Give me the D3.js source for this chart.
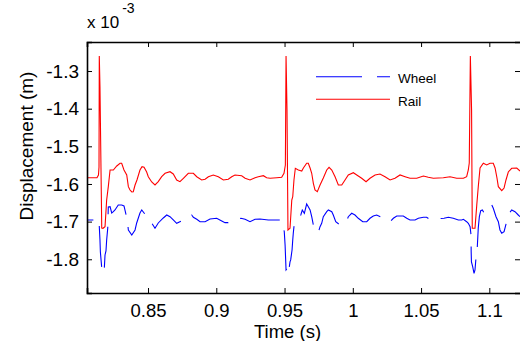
<!DOCTYPE html>
<html>
<head>
<meta charset="utf-8">
<script src="https://cdn.jsdelivr.net/npm/d3@7"></script>
<style>
  html, body { margin: 0; padding: 0; background: #fff; }
  svg { display: block; font-family: "Liberation Sans", Arial, sans-serif; }
</style>
</head>
<body>
<svg id="chart" width="520" height="341"></svg>
<script>
// ---- data (displacement in units of 1e-3 m) ----
const xTicks = [0.85, 0.9, 0.95, 1, 1.05, 1.1];
const xTickLabels = ["0.85", "0.9", "0.95", "1", "1.05", "1.1"];
const yTicks = [-1.8, -1.7, -1.6, -1.5, -1.4, -1.3];
const yTickLabels = ["-1.8", "-1.7", "-1.6", "-1.5", "-1.4", "-1.3"];
const seriesNames = ["Wheel", "Rail"];

const railTime = [0.8053,0.8126,0.8137,0.8141,0.8143,0.8148,0.8161,0.8170,0.8185,0.8197,0.8209,0.8222,0.8246,0.8271,0.8295,0.8307,0.8324,0.8344,0.8356,0.8368,0.8381,0.8392,0.8405,0.8419,0.8441,0.8456,0.8471,0.8490,0.8502,0.8527,0.8551,0.8575,0.8600,0.8625,0.8661,0.8685,0.8710,0.8734,0.8759,0.8795,0.8832,0.8857,0.8893,0.8918,0.8942,0.8978,0.9015,0.9052,0.9088,0.9113,0.9137,0.9186,0.9211,0.9247,0.9284,0.9308,0.9345,0.9369,0.9394,0.9443,0.9479,0.9496,0.9506,0.9511,0.9518,0.9525,0.9540,0.9553,0.9560,0.9569,0.9579,0.9601,0.9626,0.9638,0.9662,0.9674,0.9687,0.9699,0.9711,0.9723,0.9740,0.9760,0.9784,0.9809,0.9826,0.9846,0.9870,0.9894,0.9919,0.9943,0.9967,1.0004,1.0029,1.0065,1.0097,1.0126,1.0163,1.0199,1.0236,1.0273,1.0309,1.0346,1.0383,1.0419,1.0468,1.0517,1.0553,1.0590,1.0663,1.0712,1.0761,1.0810,1.0834,1.0846,1.0853,1.0861,1.0870,1.0875,1.0895,1.0908,1.0919,1.0932,1.0956,1.0981,1.1005,1.1029,1.1042,1.1056,1.1066,1.1091,1.1108,1.1122,1.1139,1.1164,1.1201,1.1225];
const railDisp = [-1.5833,-1.5833,-1.5761,-1.5549,-1.2602,-1.3417,-1.7169,-1.7177,-1.7134,-1.6425,-1.6072,-1.5629,-1.5629,-1.5523,-1.5451,-1.5451,-1.5629,-1.5761,-1.6072,-1.6160,-1.6213,-1.6205,-1.6027,-1.5894,-1.5629,-1.5541,-1.5557,-1.5682,-1.5807,-1.5947,-1.6027,-1.5939,-1.5807,-1.5716,-1.5674,-1.5735,-1.5894,-1.5939,-1.5849,-1.5716,-1.5716,-1.5807,-1.5894,-1.5876,-1.5807,-1.5761,-1.5807,-1.5894,-1.5876,-1.5807,-1.5761,-1.5780,-1.5849,-1.5894,-1.5833,-1.5807,-1.5780,-1.5833,-1.5849,-1.5833,-1.5823,-1.5716,-1.5496,-1.2602,-1.4036,-1.7222,-1.7177,-1.6425,-1.6338,-1.5894,-1.5584,-1.5629,-1.5655,-1.5576,-1.5451,-1.5451,-1.5576,-1.5716,-1.5982,-1.6160,-1.6205,-1.6027,-1.5841,-1.5629,-1.5557,-1.5629,-1.5807,-1.6027,-1.6027,-1.5894,-1.5761,-1.5700,-1.5761,-1.5849,-1.5939,-1.5849,-1.5761,-1.5735,-1.5807,-1.5894,-1.5849,-1.5761,-1.5807,-1.5849,-1.5849,-1.5788,-1.5823,-1.5849,-1.5833,-1.5807,-1.5849,-1.5849,-1.5807,-1.5629,-1.5443,-1.2602,-1.4036,-1.7177,-1.7177,-1.6558,-1.6072,-1.5576,-1.5451,-1.5496,-1.5451,-1.5451,-1.5576,-1.5841,-1.6072,-1.6178,-1.6107,-1.5894,-1.5682,-1.5584,-1.5576,-1.5655];

const wheelTime = [0.8053,0.8112,0.8124,0.8134,0.8141,0.8148,0.8151,0.8161,0.8170,0.8178,0.8185,0.8192,0.8197,0.8205,0.8209,0.8222,0.8234,0.8246,0.8258,0.8282,0.8307,0.8324,0.8348,0.8356,0.8381,0.8405,0.8417,0.8441,0.8454,0.8510,0.8527,0.8551,0.8575,0.8612,0.8637,0.8661,0.8685,0.8710,0.8808,0.8820,0.8832,0.8857,0.8881,0.8918,0.8954,0.9003,0.9040,0.9064,0.9088,0.9181,0.9211,0.9247,0.9284,0.9320,0.9381,0.9443,0.9479,0.9498,0.9504,0.9511,0.9520,0.9528,0.9540,0.9545,0.9555,0.9560,0.9564,0.9569,0.9619,0.9630,0.9645,0.9662,0.9674,0.9687,0.9699,0.9711,0.9723,0.9747,0.9760,0.9772,0.9784,0.9809,0.9821,0.9846,0.9857,0.9875,0.9906,0.9950,0.9967,0.9992,1.0016,1.0040,1.0073,1.0102,1.0126,1.0150,1.0175,1.0221,1.0273,1.0297,1.0322,1.0370,1.0395,1.0419,1.0456,1.0480,1.0517,1.0541,1.0561,1.0610,1.0668,1.0700,1.0736,1.0773,1.0798,1.0810,1.0834,1.0846,1.0859,1.0866,1.0867,1.0869,1.0878,1.0888,1.0895,1.0903,1.0912,1.0919,1.0927,1.0937,1.0949,1.0963,1.0983,1.1000,1.1018,1.1029,1.1049,1.1066,1.1078,1.1091,1.1108,1.1130,1.1146,1.1164,1.1188,1.1212,1.1225];
const wheelDisp = [-1.6956,-1.6956,-1.6930,-1.6922,-1.6983,-1.7487,-1.7806,-1.8231,-1.8311,-1.8372,-1.7886,-1.7779,-1.7487,-1.7169,-1.6611,-1.6603,-1.6771,-1.6736,-1.6691,-1.6558,-1.6558,-1.6585,-1.6956,-1.7222,-1.7355,-1.7222,-1.7036,-1.6771,-1.6691,-1.6956,-1.7036,-1.7177,-1.7036,-1.6903,-1.6824,-1.6869,-1.6956,-1.7044,-1.6869,-1.6824,-1.6885,-1.6938,-1.7002,-1.7002,-1.6930,-1.6911,-1.6983,-1.7028,-1.7028,-1.6911,-1.6938,-1.7002,-1.6938,-1.6930,-1.6956,-1.6956,-1.6956,-1.7267,-1.7620,-1.8284,-1.8239,-1.8372,-1.8071,-1.8018,-1.7753,-1.7487,-1.7310,-1.7134,-1.6824,-1.6691,-1.6778,-1.6532,-1.6603,-1.6691,-1.6869,-1.7089,-1.7222,-1.7294,-1.7134,-1.7044,-1.6869,-1.6736,-1.6691,-1.6736,-1.6824,-1.7002,-1.7089,-1.7028,-1.6869,-1.6778,-1.6824,-1.6911,-1.7002,-1.7002,-1.6911,-1.6850,-1.6824,-1.6903,-1.7002,-1.6911,-1.6850,-1.6850,-1.6911,-1.6956,-1.6956,-1.6911,-1.6885,-1.6885,-1.6938,-1.6930,-1.6911,-1.6885,-1.6911,-1.6956,-1.6956,-1.6938,-1.7002,-1.7044,-1.7134,-1.7355,-1.7798,-1.8071,-1.8196,-1.8372,-1.8284,-1.7931,-1.7665,-1.7169,-1.6869,-1.6709,-1.6691,-1.6778,-1.6691,-1.6603,-1.6558,-1.6646,-1.6869,-1.7002,-1.7222,-1.7310,-1.7267,-1.6956,-1.6778,-1.6691,-1.6736,-1.6824,-1.6869];

const xDomain = [0.8053, 1.1232];
const yDomain = [-1.8896, -1.2229];

// ---- layout ----
const svg = d3.select("#chart");
const L = 87, R = 521, T = 42, B = 293;
const FONT = "Liberation Sans, Arial, sans-serif";

const x = d3.scaleLinear().domain(xDomain).range([L, R]);
const y = d3.scaleLinear().domain(yDomain).range([B, T]);

svg.append("defs").append("clipPath").attr("id", "clip")
  .append("rect").attr("x", L).attr("y", T).attr("width", R - L).attr("height", B - T);

const rail = railTime.map((t, i) => [t, railDisp[i]]);
const wheel = wheelTime.map((t, i) => [t, wheelDisp[i]]);
const line = d3.line().x(d => x(d[0])).y(d => y(d[1]));

// dash pattern for the wheel line, phased so that a dash ends at the 0.9088 s vertex
const DASH = 41, GAP = 12.5;
let cum = 0;
const anchorIdx = wheelTime.indexOf(0.9088);
for (let i = 1; i <= anchorIdx; i++) {
  const dx = x(wheel[i][0]) - x(wheel[i - 1][0]);
  const dy = y(wheel[i][1]) - y(wheel[i - 1][1]);
  cum += Math.hypot(dx, dy);
}
const period = DASH + GAP;
const dashOffset = (((DASH - cum) % period) + period) % period;

const plot = svg.append("g").attr("clip-path", "url(#clip)");
plot.append("path").datum(rail)
  .attr("d", line).attr("fill", "none").attr("stroke", "#ff0000").attr("stroke-width", 1.1);
plot.append("path").datum(wheel)
  .attr("d", line).attr("fill", "none").attr("stroke", "#0000ff").attr("stroke-width", 1.1)
  .attr("stroke-dasharray", `${DASH},${GAP}`).attr("stroke-dashoffset", dashOffset);

// ---- axes ----
function styleAxis(g, fs) {
  g.selectAll(".domain").attr("stroke", "#000").attr("stroke-width", 1.6);
  g.selectAll(".tick line").attr("stroke", "#000").attr("stroke-width", 1);
  g.selectAll("text").attr("font-family", FONT).attr("font-size", fs).attr("fill", "#000");
}
const xAxis = svg.append("g").attr("transform", `translate(0,${B})`)
  .call(d3.axisBottom(x).tickValues(xTicks).tickSize(-5).tickPadding(10.9)
    .tickFormat((d, i) => xTickLabels[i]));
styleAxis(xAxis, 18.5);
const xAxisTop = svg.append("g").attr("transform", `translate(0,${T})`)
  .call(d3.axisTop(x).tickValues(xTicks).tickSize(-5).tickFormat(""));
styleAxis(xAxisTop, 18.5);
const yAxis = svg.append("g").attr("transform", `translate(${L},0)`)
  .call(d3.axisLeft(y).tickValues(yTicks).tickSize(-5).tickPadding(8)
    .tickFormat((d, i) => yTickLabels[i]));
styleAxis(yAxis, 19);
const yAxisRight = svg.append("g").attr("transform", `translate(${R},0)`)
  .call(d3.axisRight(y).tickValues(yTicks).tickSize(-6).tickFormat(""));
styleAxis(yAxisRight, 19);

// ---- labels ----
svg.append("text").attr("x", 287.5).attr("y", 337.5).attr("text-anchor", "middle")
  .attr("font-family", FONT).attr("font-size", 18.5).text("Time (s)");
svg.append("text").attr("transform", "translate(33,146) rotate(-90)").attr("text-anchor", "middle")
  .attr("font-family", FONT).attr("font-size", 19).text("Displacement (m)");
const sc = svg.append("text").attr("x", 87).attr("y", 28.3)
  .attr("font-family", FONT).attr("font-size", 17);
sc.append("tspan").text("x 10");
sc.append("tspan").attr("dx", 3).attr("dy", -15).attr("font-size", 14).text("-3");

// ---- legend ----
const legendColors = ["#0000ff", "#ff0000"];
const legendDash = ["46,15", null];
const lg = svg.append("g");
seriesNames.forEach((name, i) => {
  const ly = 76.7 + i * 22.6;
  lg.append("line").attr("x1", 316).attr("x2", 390).attr("y1", ly).attr("y2", ly)
    .attr("stroke", legendColors[i]).attr("stroke-width", 1.1)
    .attr("stroke-dasharray", legendDash[i]);
  lg.append("text").attr("x", 398).attr("y", ly + 6.7)
    .attr("font-family", FONT).attr("font-size", 13.5).text(name);
});
</script>
</body>
</html>
